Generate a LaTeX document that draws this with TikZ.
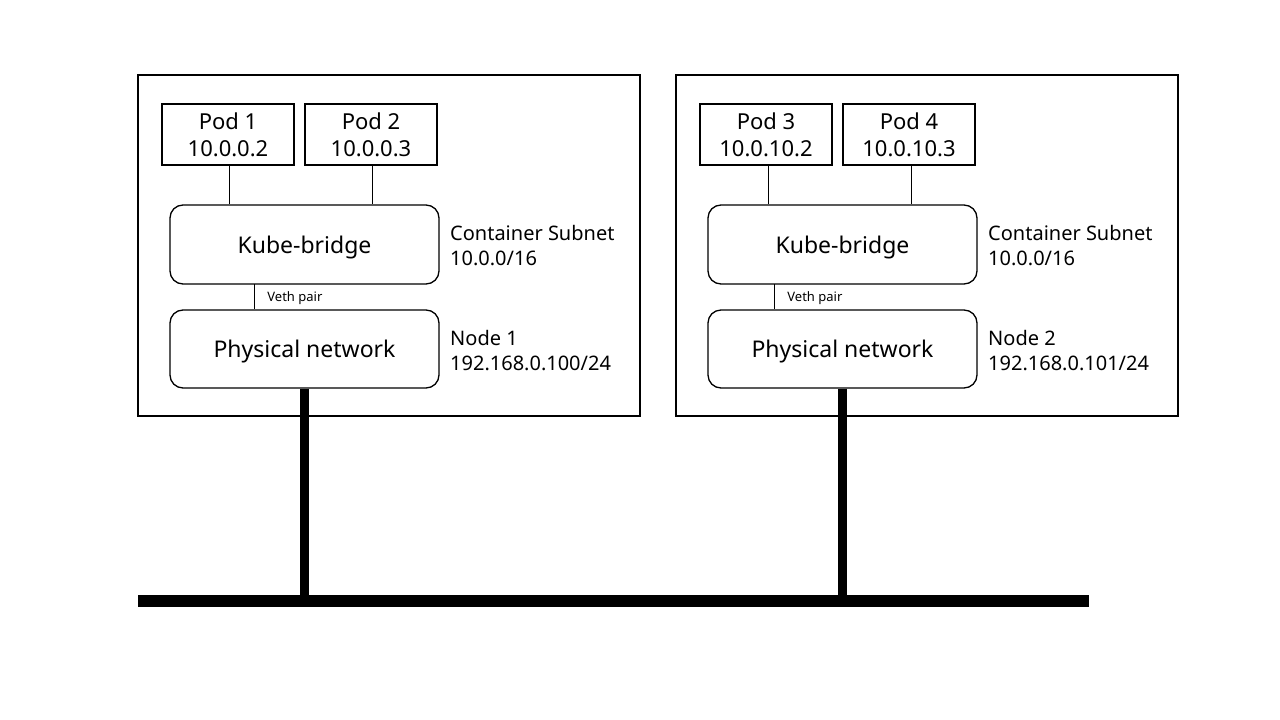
\documentclass[tikz,border=0pt]{standalone}
\usepackage{fontspec}
\setmainfont{Noto Sans}
\usepackage{tikz}

\begin{document}
\begin{tikzpicture}[x=1pt,y=-1pt,
  hostbox/.style={draw,line width=1.5pt,minimum width=502pt,minimum height=341pt,inner sep=0pt},
  podbox/.style={draw,line width=1.5pt,minimum width=132pt,minimum height=61pt,inner sep=0pt,
    align=center,text depth=0pt,font=\fontsize{22}{27}\selectfont},
  netbox/.style={draw,line width=1.3pt,rounded corners=13pt,minimum width=269pt,minimum height=79pt,
    inner sep=0pt,text depth=0pt,font=\fontsize{23}{27}\selectfont},
  info/.style={anchor=west,align=left,inner sep=0pt,font=\fontsize{20}{25}\selectfont},
  wire/.style={line width=0.8pt},
  trunk/.style={line width=9pt}]
\useasboundingbox (0,0) rectangle (1280,720);
\begin{scope}
% host 1
\node[hostbox] (host1) at (389,245.5) {};
\node[podbox] (pod1) at (228,134.5) {Pod 1\\10.0.0.2};
\node[podbox] (pod2) at (371,134.5) {Pod 2\\10.0.0.3};
\node[netbox] (kb1) at (304.5,244.5) {Kube-bridge};
\node[netbox,minimum height=78pt] (pn1) at (304.5,349) {Physical network};
\node[info] (sub1) at (450,246) {Container Subnet\\10.0.0/16};
\node[info] (nd1) at (450,351) {Node 1\\192.168.0.100/24};
\draw[wire] (pod1.south) ++(1,0) -- (kb1.north -| 229,0);
\draw[wire] (pod2.south) ++(1,0) -- (kb1.north -| 372,0);
\coordinate (v1) at (254,284);
\draw[wire] (v1) -- (v1 |- pn1.north) node[midway,anchor=west,inner sep=0pt,xshift=13pt,yshift=-1pt,
  font=\fontsize{13}{16}\selectfont] (veth1) {Veth pair};
% host 2
\node[hostbox] (host2) at (927,245.5) {};
\node[podbox] (pod3) at (766,134.5) {Pod 3\\10.0.10.2};
\node[podbox] (pod4) at (909,134.5) {Pod 4\\10.0.10.3};
\node[netbox] (kb2) at (842.5,244.5) {Kube-bridge};
\node[netbox,minimum height=78pt] (pn2) at (842.5,349) {Physical network};
\node[info] (sub2) at (988,246) {Container Subnet\\10.0.0/16};
\node[info] (nd2) at (988,351) {Node 2\\192.168.0.101/24};
\draw[wire] (kb2.north -| 768,0) -- (pod3.south -| 768,0);
\draw[wire] (kb2.north -| 911,0) -- (pod4.south -| 911,0);
\coordinate (v2) at (774,284);
\draw[wire] (v2) -- (v2 |- pn2.north) node[midway,anchor=west,inner sep=0pt,xshift=13pt,yshift=-1pt,
  font=\fontsize{13}{16}\selectfont] (veth2) {Veth pair};
% bus
\coordinate (busL) at (138,601);
\coordinate (busR) at (1089,601);
\draw[line width=12pt] (busL) -- (busR);
\draw[trunk] (pn1.south) -- (pn1.south |- busL);
\draw[trunk] (pn2.south) -- (pn2.south |- busL);
\end{scope}
\end{tikzpicture}
\end{document}
